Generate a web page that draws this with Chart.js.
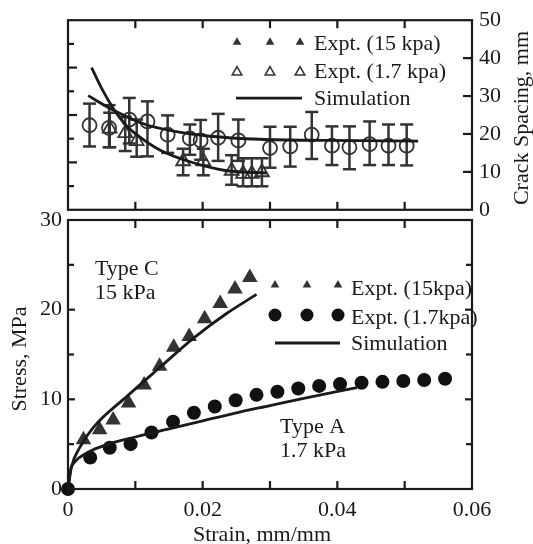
<!DOCTYPE html>
<html><head><meta charset="utf-8">
<script src="https://cdn.jsdelivr.net/npm/chart.js@4.4.0/dist/chart.umd.min.js"></script>
<style>
html,body{margin:0;padding:0;background:#fff;}
#wrap{position:relative;width:533px;height:544px;overflow:hidden;}
canvas{position:absolute;left:0;}
#top{top:0;}
#bot{top:200px;}
</style></head><body>
<div id="wrap"><canvas id="top" width="533" height="230"></canvas><canvas id="bot" width="533" height="344"></canvas></div>
<script>
// ---------- bottom panel: stress-strain ----------
const strainC = [0.0023, 0.0047, 0.0067, 0.0090, 0.0113, 0.0136, 0.0157, 0.0180, 0.0203, 0.0226, 0.0248, 0.0270];
const stressC = [5.5, 6.6, 7.7, 9.6, 11.6, 13.7, 15.8, 17.0, 19.0, 20.7, 22.3, 23.6];
const strainA = [0, 0.0033, 0.0062, 0.0093, 0.0124, 0.0156, 0.0187, 0.0218, 0.0249, 0.0280, 0.0311, 0.0342, 0.0373, 0.0404, 0.0436, 0.0467, 0.0498, 0.0529, 0.0560];
const stressA = [0, 3.5, 4.6, 5.0, 6.3, 7.5, 8.5, 9.2, 9.9, 10.5, 10.85, 11.2, 11.5, 11.7, 11.85, 11.95, 12.05, 12.15, 12.3];
const simStrainC = [0, 0.0005, 0.0018, 0.0038, 0.0087, 0.0137, 0.0186, 0.0236, 0.0280];
const simStressC = [0, 2.4, 4.7, 6.9, 10.3, 13.6, 16.8, 19.6, 21.7];
const simStrainA = [0, 0.0004, 0.0010, 0.0030, 0.0060, 0.0100, 0.0150, 0.0200, 0.0250, 0.0300, 0.0350, 0.0429];
const simStressA = [0, 2.2, 3.0, 4.1, 5.0, 5.8, 6.7, 7.6, 8.5, 9.3, 10.1, 11.3];

// ---------- top panel: crack spacing ----------
const circStrain = [0.0032, 0.0061, 0.0091, 0.0118, 0.0148, 0.0181, 0.0197, 0.0223, 0.0253, 0.0300, 0.0330, 0.0362, 0.0392, 0.0418, 0.0448, 0.0476, 0.0503];
const circCrack  = [22.3, 21.6, 23.8, 23.3, 19.8, 18.8, 18.3, 19.0, 18.3, 16.3, 16.7, 19.8, 16.9, 16.5, 17.3, 16.9, 16.9];
const circHi     = [28.0, 27.6, 29.5, 28.6, 24.9, 22.5, 23.7, 25.3, 23.8, 21.9, 21.9, 25.8, 22.0, 22.0, 23.3, 22.5, 22.5];
const circLo     = [16.7, 16.5, 17.5, 14.1, 15.0, 14.5, 13.2, 12.9, 12.9, 11.1, 11.4, 13.4, 11.8, 10.7, 11.8, 11.8, 11.7];
const triStrain  = [0.0062, 0.0085, 0.0102, 0.0171, 0.0201, 0.0243, 0.0260, 0.0273, 0.0288];
const triCrack   = [21.4, 20.2, 18.1, 12.8, 12.8, 10.3, 9.5, 9.5, 9.9];
const triHi      = [25.6, 24.5, 23.8, 16.1, 16.1, 14.4, 13.6, 13.6, 13.6];
const triLo      = [16.5, 15.5, 14.0, 9.1, 9.1, 6.6, 6.2, 6.2, 6.2];
const simCrackStrain1 = [0.0035, 0.0050, 0.0067, 0.0085, 0.0102, 0.0137, 0.0186, 0.0236, 0.0295];
const simCrack1       = [37.5, 32.0, 26.8, 22.5, 19.8, 15.7, 12.4, 10.3, 9.7];
const simCrackStrain2 = [0.0030, 0.0062, 0.0112, 0.0161, 0.0211, 0.0285, 0.0384, 0.0520];
const simCrack2       = [30.1, 26.8, 22.7, 20.6, 19.4, 18.6, 18.3, 18.1];

// ---------- tick labels ----------
const xTickValues = [0, 0.02, 0.04, 0.06];
const xTickLabels = ['0', '0.02', '0.04', '0.06'];
const stressTickValues = [0, 10, 20, 30];
const stressTickLabels = ['0', '10', '20', '30'];
const crackTickValues = [0, 10, 20, 30, 40, 50];
const crackTickLabels = ['0', '10', '20', '30', '40', '50'];

const INK = '#1a1a1a';
const MARK = '#333333';
const FONT = "'Liberation Serif','Times New Roman',Times,serif";
Chart.defaults.font.family = FONT;
Chart.defaults.font.size = 22;
Chart.defaults.color = INK;

const pts = (xs, ys) => xs.map((x, i) => ({x, y: ys[i]}));
const labelFor = (vals, labs) => (v) => {
  const i = vals.findIndex(t => Math.abs(t - v) < 1e-9);
  return i >= 0 ? labs[i] : '';
};

function seg(ctx, x1, y1, x2, y2) { ctx.beginPath(); ctx.moveTo(x1, y1); ctx.lineTo(x2, y2); ctx.stroke(); }
function tri(ctx, x, y, r, fill, col) {
  ctx.beginPath();
  for (let k = 0; k < 3; k++) {
    const ang = k * 2 * Math.PI / 3;
    const px = x + Math.sin(ang) * r, py = y - Math.cos(ang) * r;
    k ? ctx.lineTo(px, py) : ctx.moveTo(px, py);
  }
  ctx.closePath();
  if (fill) { ctx.fillStyle = col; ctx.fill(); } else { ctx.strokeStyle = col; ctx.lineWidth = 1.6; ctx.stroke(); }
}
function circ(ctx, x, y, r, col) { ctx.beginPath(); ctx.arc(x, y, r, 0, 2 * Math.PI); ctx.fillStyle = col; ctx.fill(); }

const frameTicksPlugin = {
  id: 'frameTicks',
  afterDraw(chart, args, o) {
    const {ctx, chartArea: a} = chart;
    ctx.save();
    ctx.strokeStyle = INK; ctx.lineWidth = 2.2;
    const xs = chart.scales.x;
    xs.ticks.forEach(t => {
      const p = xs.getPixelForValue(t.value);
      if (p < a.left + 2 || p > a.right - 2) return;
      seg(ctx, p, a.bottom, p, a.bottom - o.xLen);
      seg(ctx, p, a.top, p, a.top + o.xLen);
    });
    const side = (id, x, dir) => {
      const s = chart.scales[id];
      s.ticks.forEach(t => {
        const p = s.getPixelForValue(t.value);
        if (p < a.top + 2 || p > a.bottom - 2) return;
        const len = (t.label !== '' && t.label != null) ? o.major : o.minor;
        seg(ctx, x, p, x + dir * len, p);
      });
    };
    side(o.leftId, a.left, 1);
    side(o.rightId, a.right, -1);
    ctx.strokeRect(a.left, a.top, a.right - a.left, a.bottom - a.top);
    ctx.restore();
  }
};

const errorBarsPlugin = {
  id: 'errorBars',
  beforeDatasetsDraw(chart) {
    const {ctx} = chart;
    const xs = chart.scales.x, ys = chart.scales.y;
    ctx.save();
    ctx.strokeStyle = MARK; ctx.lineWidth = 2.5;
    chart.data.datasets.forEach(ds => {
      if (!ds.errHi) return;
      ds.data.forEach((p, i) => {
        const x = xs.getPixelForValue(p.x);
        const y1 = ys.getPixelForValue(ds.errHi[i]);
        const y2 = ys.getPixelForValue(ds.errLo[i]);
        seg(ctx, x, y1, x, y2);
        seg(ctx, x - 6.5, y1, x + 6.5, y1);
        seg(ctx, x - 6.5, y2, x + 6.5, y2);
      });
    });
    ctx.restore();
  }
};

const legendPlugin = {
  id: 'customLegend',
  afterDraw(chart, args, o) {
    const {ctx, chartArea: a} = chart;
    ctx.save();
    ctx.font = '22px ' + FONT;
    ctx.textBaseline = 'alphabetic';
    ctx.textAlign = 'left';
    o.rows.forEach(r => {
      if (r.kind === 'line') {
        ctx.strokeStyle = INK; ctx.lineWidth = 2.8;
        seg(ctx, a.left + r.x1, a.top + r.my, a.left + r.x2, a.top + r.my);
      } else {
        o.markerX.forEach(mx => {
          if (r.kind === 'tri') tri(ctx, a.left + mx, a.top + r.my, r.r, r.fill, MARK);
          else circ(ctx, a.left + mx, a.top + r.my, r.r, '#111');
        });
      }
      ctx.fillStyle = INK;
      ctx.fillText(r.text, a.left + o.textX, a.top + r.ty);
    });
    ctx.restore();
  }
};

const textPlugin = {
  id: 'texts',
  afterDraw(chart, args, o) {
    const {ctx} = chart;
    ctx.save();
    ctx.font = '22px ' + FONT;
    ctx.fillStyle = INK;
    (o.items || []).forEach(it => {
      let x = it.x, y = it.y;
      if (it.data) { x = chart.scales.x.getPixelForValue(it.x); y = chart.scales.y.getPixelForValue(it.y); }
      ctx.save();
      ctx.translate(x, y);
      if (it.rot) ctx.rotate(it.rot);
      ctx.textAlign = it.align || 'left';
      ctx.textBaseline = 'alphabetic';
      ctx.fillText(it.text, 0, 0);
      ctx.restore();
    });
    ctx.restore();
  }
};

// ---------------- TOP CHART ----------------
new Chart(document.getElementById('top'), {
  type: 'scatter',
  data: {
    datasets: [
      {label: 'Simulation', yAxisID: 'y', data: pts(simCrackStrain1, simCrack1), showLine: true, pointRadius: 0, borderColor: INK, borderWidth: 2.8, cubicInterpolationMode: 'monotone'},
      {label: 'Simulation 2', yAxisID: 'y', data: pts(simCrackStrain2, simCrack2), showLine: true, pointRadius: 0, borderColor: INK, borderWidth: 2.8, cubicInterpolationMode: 'monotone'},
      {label: 'Expt. (1.7 kpa)', yAxisID: 'y', data: pts(circStrain, circCrack), errHi: circHi, errLo: circLo, pointStyle: 'circle', pointRadius: 7, borderWidth: 1.8, borderColor: MARK, backgroundColor: 'rgba(0,0,0,0)'},
      {label: 'Expt. (15 kpa)', yAxisID: 'y', data: pts(triStrain, triCrack), errHi: triHi, errLo: triLo, pointStyle: 'triangle', pointRadius: 8, borderWidth: 1.8, borderColor: MARK, backgroundColor: 'rgba(0,0,0,0)'}
    ]
  },
  options: {
    responsive: false, animation: false, devicePixelRatio: 1,
    layout: {padding: {top: 18, left: 0, right: 0, bottom: 0}},
    scales: {
      x: {type: 'linear', min: 0, max: 0.06, position: 'bottom',
          ticks: {display: false, stepSize: 0.01},
          grid: {display: false, drawTicks: false}, border: {display: false},
          afterFit: s => { s.height = 10; }},
      y: {type: 'linear', position: 'right', min: 0, max: 50,
          ticks: {stepSize: 5, padding: 7, callback: labelFor(crackTickValues, crackTickLabels), font: {size: 22}},
          grid: {display: false, drawTicks: false}, border: {display: false},
          afterFit: s => { s.width = 61; }},
      yl: {type: 'linear', position: 'left', min: 0, max: 8,
           ticks: {display: false, stepSize: 1, callback: v => (v % 2 === 0 ? String(v) : '')},
           grid: {display: false, drawTicks: false}, border: {display: false},
           afterFit: s => { s.width = 68; }}
    },
    plugins: {
      legend: {display: false}, tooltip: {enabled: false},
      frameTicks: {xLen: 8, major: 9, minor: 6, leftId: 'yl', rightId: 'y'},
      customLegend: {
        markerX: [169, 202, 232], textX: 246,
        rows: [
          {kind: 'tri', fill: true, r: 5, my: 22, ty: 30, text: 'Expt. (15 kpa)'},
          {kind: 'tri', fill: false, r: 5.5, my: 52, ty: 58, text: 'Expt. (1.7 kpa)'},
          {kind: 'line', x1: 168, x2: 234, my: 78, ty: 85, text: 'Simulation'}
        ]
      },
      texts: {items: [
        {text: 'Crack Spacing, mm', x: 528, y: 118, rot: -Math.PI / 2, align: 'center'}
      ]}
    }
  },
  plugins: [errorBarsPlugin, frameTicksPlugin, legendPlugin, textPlugin]
});

// ---------------- BOTTOM CHART ----------------
new Chart(document.getElementById('bot'), {
  type: 'scatter',
  data: {
    datasets: [
      {label: 'Simulation C', data: pts(simStrainC, simStressC), showLine: true, pointRadius: 0, borderColor: INK, borderWidth: 2.8, cubicInterpolationMode: 'monotone'},
      {label: 'Simulation A', data: pts(simStrainA, simStressA), showLine: true, pointRadius: 0, borderColor: INK, borderWidth: 2.8, cubicInterpolationMode: 'monotone'},
      {label: 'Expt. (15kpa)', data: pts(strainC, stressC), pointStyle: 'triangle', pointRadius: 9, borderWidth: 0, backgroundColor: MARK, borderColor: MARK},
      {label: 'Expt. (1.7kpa)', data: pts(strainA, stressA), pointStyle: 'circle', pointRadius: 7, borderWidth: 0, backgroundColor: '#111', borderColor: '#111', clip: false}
    ]
  },
  options: {
    responsive: false, animation: false, devicePixelRatio: 1,
    layout: {padding: {top: 20, left: 0, right: 61, bottom: 0}},
    scales: {
      x: {type: 'linear', min: 0, max: 0.06, position: 'bottom',
          ticks: {stepSize: 0.01, padding: 8, autoSkip: false, maxRotation: 0, callback: labelFor(xTickValues, xTickLabels)},
          grid: {display: false, drawTicks: false}, border: {display: false},
          afterFit: s => { s.height = 55; }},
      y: {type: 'linear', position: 'left', min: 0, max: 30,
          ticks: {stepSize: 5, padding: 6, callback: labelFor(stressTickValues, stressTickLabels)},
          grid: {display: false, drawTicks: false}, border: {display: false},
          afterFit: s => { s.width = 68; }}
    },
    plugins: {
      legend: {display: false}, tooltip: {enabled: false},
      frameTicks: {xLen: 8, major: 7, minor: 6, leftId: 'y', rightId: 'y'},
      customLegend: {
        markerX: [207, 239, 270], textX: 283,
        rows: [
          {kind: 'tri', fill: true, r: 5, my: 65, ty: 75, text: 'Expt. (15kpa)'},
          {kind: 'circ', r: 6.5, my: 95, ty: 104, text: 'Expt. (1.7kpa)'},
          {kind: 'line', x1: 207, x2: 272, my: 123, ty: 130, text: 'Simulation'}
        ]
      },
      texts: {items: [
        {text: 'Type C', x: 0.0040, y: 23.9, data: true},
        {text: '15 kPa', x: 0.0040, y: 21.2, data: true},
        {text: 'Type A', x: 0.0315, y: 6.25, data: true},
        {text: '1.7 kPa', x: 0.0315, y: 3.57, data: true},
        {text: 'Strain, mm/mm', x: 262, y: 341, align: 'center'},
        {text: 'Stress, MPa', x: 26, y: 159, rot: -Math.PI / 2, align: 'center'}
      ]}
    }
  },
  plugins: [frameTicksPlugin, legendPlugin, textPlugin]
});
</script>
</body></html>
